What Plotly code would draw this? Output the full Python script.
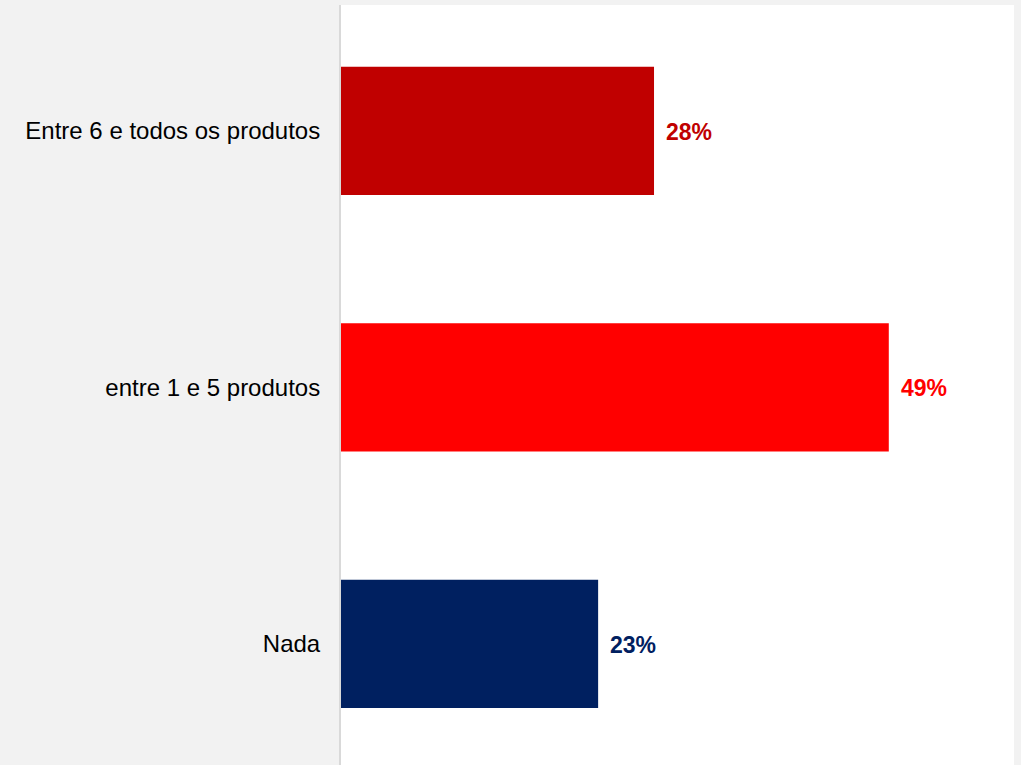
import plotly.graph_objects as go

categories = ["Nada", "entre 1 e 5 produtos", "Entre 6 e todos os produtos"]
values = [0.23, 0.49, 0.28]
colors = ["#002060", "#FF0000", "#C00000"]

fig = go.Figure()
fig.add_trace(go.Bar(
    y=categories, x=values, orientation="h",
    marker=dict(color=colors, line=dict(width=0)),
    width=0.5, hoverinfo="skip",
))
for c, v, col in zip(categories, values, colors):
    fig.add_annotation(x=v, y=c, text=f"<b>{round(v*100)}%</b>", showarrow=False,
                       xanchor="left", xshift=10, yshift=-1,
                       font=dict(family="Liberation Sans, Arial", size=23, color=col))

fig.update_layout(
    width=1021, height=765,
    margin=dict(l=341, r=7, t=5, b=0),
    paper_bgcolor="#F2F2F2", plot_bgcolor="#FFFFFF",
    showlegend=False,
    font=dict(family="Liberation Sans, Arial", size=24, color="#000000"),
    xaxis=dict(range=[0, 0.602], visible=False, showgrid=False, zeroline=False),
    yaxis=dict(type="category", categoryorder="array", categoryarray=categories,
               range=[-0.472, 2.491], showgrid=False, zeroline=False,
               showline=True, linecolor="#D9D9D9", linewidth=2,
               ticks="", ticklabelstandoff=14,
               tickfont=dict(family="Liberation Sans, Arial", size=24, color="#000000")),
)
fig.write_html("out.html")
